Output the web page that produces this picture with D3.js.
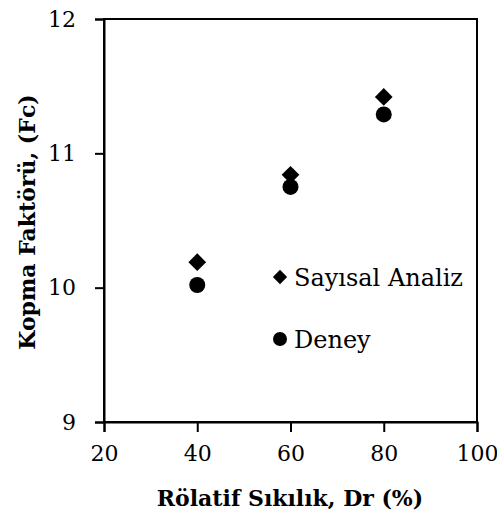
<!DOCTYPE html>
<html>
<head>
<meta charset="utf-8">
<script src="https://cdn.jsdelivr.net/npm/d3@7"></script>
<style>
  body { margin: 0; background: #fff; }
</style>
</head>
<body>
<svg id="chart" width="497" height="516"></svg>
<script>
// values
const dr = [40, 60, 80];
const sayisal = [10.19, 10.84, 11.42];
const deney = [10.02, 10.75, 11.29];
const xTicks = [20, 40, 60, 80, 100];
const yTicks = [9, 10, 11, 12];

const font = '"DejaVu Serif", serif';
const svg = d3.select('#chart');
const plotLeft = 104, plotRight = 477, plotTop = 19, plotBottom = 422;

const x = d3.scaleLinear().domain([20, 100]).range([plotLeft, plotRight]);
const y = d3.scaleLinear().domain([9, 12]).range([plotBottom, plotTop]);

// frame
svg.append('rect')
  .attr('x', plotLeft).attr('y', plotTop)
  .attr('width', plotRight - plotLeft).attr('height', plotBottom - plotTop)
  .attr('fill', 'none').attr('stroke', '#000').attr('stroke-width', 2);

// axes
const xAxis = svg.append('g')
  .attr('transform', `translate(0,${plotBottom})`)
  .call(d3.axisBottom(x).tickValues(xTicks).tickSize(10).tickPadding(13));
const yAxis = svg.append('g')
  .attr('transform', `translate(${plotLeft},0)`)
  .call(d3.axisLeft(y).tickValues(yTicks).tickFormat(d3.format('d')).tickSize(9).tickPadding(19));

[xAxis, yAxis].forEach(a => {
  a.attr('font-family', font).attr('font-size', 22);
  a.select('.domain').attr('stroke-width', 2);
  a.selectAll('.tick line').attr('stroke-width', 2);
  a.selectAll('.tick text').attr('fill', '#000');
});

// axis titles
svg.append('text')
  .attr('x', 290).attr('y', 506)
  .attr('text-anchor', 'middle')
  .attr('font-family', font).attr('font-size', 22).attr('font-weight', 'bold')
  .text('Rölatif Sıkılık, Dr (%)');

svg.append('text')
  .attr('transform', 'translate(35,222) rotate(-90)')
  .attr('text-anchor', 'middle')
  .attr('font-family', font).attr('font-size', 22).attr('font-weight', 'bold')
  .text('Kopma Faktörü, (Fc)');

// markers
const diamond = d3.symbol().type(d3.symbolDiamond2).size(200);

svg.append('g').selectAll('circle')
  .data(deney)
  .join('circle')
  .attr('cx', (d, i) => x(dr[i]))
  .attr('cy', d => y(d))
  .attr('r', 8)
  .attr('fill', '#000');

svg.append('g').selectAll('path')
  .data(sayisal)
  .join('path')
  .attr('d', diamond)
  .attr('transform', (d, i) => `translate(${x(dr[i])},${y(d)})`)
  .attr('fill', '#000');

// legend
const legend = svg.append('g').attr('font-family', font).attr('font-size', 24);
legend.append('path')
  .attr('d', d3.symbol().type(d3.symbolDiamond2).size(130))
  .attr('transform', 'translate(280,277)');
legend.append('text')
  .attr('x', 294).attr('y', 286)
  .text('Sayısal Analiz');
legend.append('circle')
  .attr('cx', 280).attr('cy', 339).attr('r', 7);
legend.append('text')
  .attr('x', 294).attr('y', 348)
  .text('Deney');
</script>
</body>
</html>
